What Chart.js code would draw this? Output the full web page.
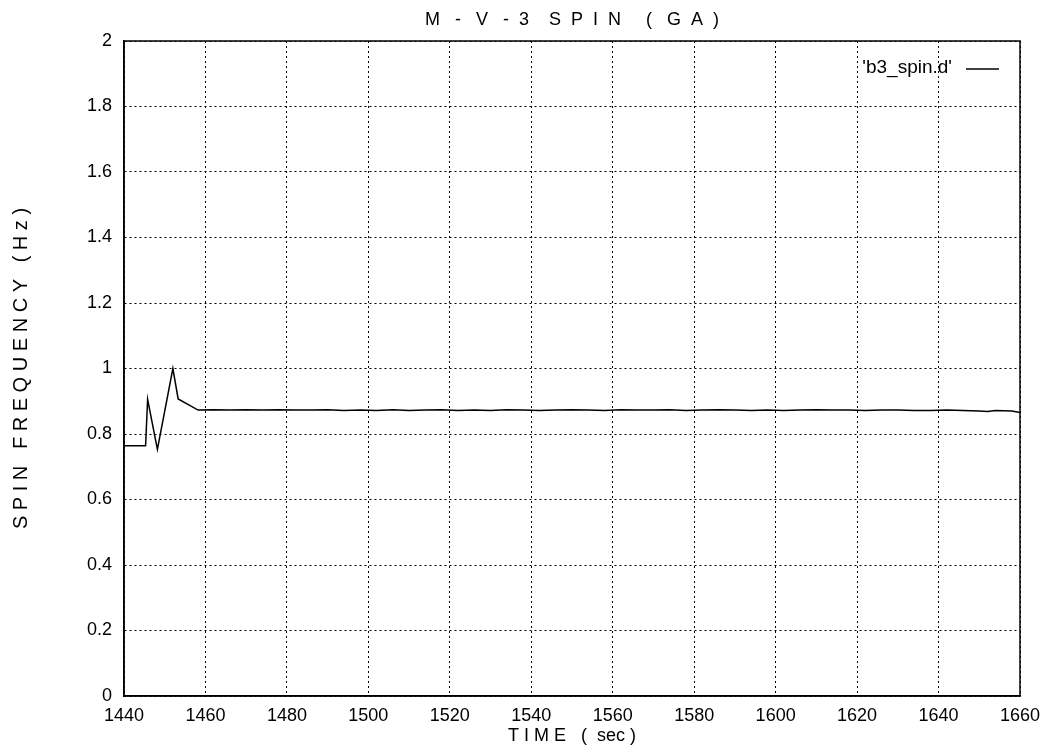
<!DOCTYPE html>
<html>
<head>
<meta charset="utf-8">
<script src="https://cdn.jsdelivr.net/npm/chart.js@4/dist/chart.umd.min.js"></script>
<style>
  html, body { margin: 0; padding: 0; background: #fff; }
  #wrap { width: 1053px; height: 753px; position: relative; }
</style>
</head>
<body>
<div id="wrap"><canvas id="c" width="1053" height="753"></canvas></div>
<script>
// ---- data ----
const timeSec = [1440, 1445.3, 1445.8, 1448.2, 1452, 1453.3, 1458.2,
  1462, 1466, 1470, 1474, 1478, 1482, 1486, 1490, 1494, 1498,
  1502, 1506, 1510, 1514, 1518, 1522, 1526, 1530, 1534, 1538,
  1542, 1546, 1550, 1554, 1558, 1562, 1566, 1570, 1574, 1578,
  1582, 1586, 1590, 1594, 1598, 1602, 1606, 1610, 1614, 1618,
  1622, 1626, 1630, 1634, 1638, 1642, 1646, 1650, 1652, 1654, 1658, 1660];
const spinHz = [0.764, 0.764, 0.906, 0.753, 1.0, 0.907, 0.873,
  0.874, 0.873, 0.874, 0.873, 0.874, 0.873, 0.873, 0.874, 0.872, 0.873,
  0.872, 0.874, 0.872, 0.873, 0.874, 0.872, 0.873, 0.872, 0.874, 0.873,
  0.872, 0.873, 0.874, 0.873, 0.872, 0.874, 0.873, 0.873, 0.874, 0.872,
  0.873, 0.874, 0.873, 0.872, 0.873, 0.872, 0.873, 0.874, 0.873, 0.873,
  0.872, 0.873, 0.873, 0.872, 0.872, 0.873, 0.872, 0.870, 0.869, 0.872, 0.870, 0.866];
const seriesLabel = "'b3_spin.d'";
const xTicks = [1440, 1460, 1480, 1500, 1520, 1540, 1560, 1580, 1600, 1620, 1640, 1660];
const yTicks = [0, 0.2, 0.4, 0.6, 0.8, 1, 1.2, 1.4, 1.6, 1.8, 2];
const chartTitle = "M   -   V   -  3    S  P  I  N     (   G  A  )";
const xTitle = "T I M E   (  sec )";
const yTitle = "S P I N   F R E Q U E N C Y   ( H z )";

const FONT = "'Liberation Sans', Arial, sans-serif";

const points = timeSec.map((t, i) => ({ x: t, y: spinHz[i] }));

const framePlugin = {
  id: 'frame',
  afterDraw(chart) {
    const { ctx, chartArea: a } = chart;
    ctx.save();
    ctx.strokeStyle = '#000';
    ctx.lineWidth = 1.5;
    ctx.strokeRect(a.left, a.top, a.right - a.left, a.bottom - a.top);
    // inline key, gnuplot style
    ctx.font = '19px ' + FONT;
    ctx.fillStyle = '#000';
    ctx.textAlign = 'right';
    ctx.textBaseline = 'middle';
    const ky = a.top + 27;
    ctx.fillText(chart.data.datasets[0].label, a.right - 68, ky);
    ctx.beginPath();
    ctx.lineWidth = 1.3;
    ctx.moveTo(a.right - 54, ky + 1);
    ctx.lineTo(a.right - 21, ky + 1);
    ctx.stroke();
    ctx.restore();
  }
};

new Chart(document.getElementById('c'), {
  type: 'line',
  data: {
    datasets: [{
      label: seriesLabel,
      data: points,
      borderColor: '#000',
      borderWidth: 1.5,
      pointRadius: 0,
      tension: 0,
      fill: false
    }]
  },
  options: {
    responsive: false,
    animation: false,
    layout: { padding: { left: 0, right: 33, top: 0, bottom: 0 } },
    plugins: {
      legend: { display: false },
      tooltip: { enabled: false },
      title: {
        display: true,
        fullSize: false,
        text: chartTitle,
        color: '#000',
        font: { family: FONT, size: 18, weight: 'normal', lineHeight: 1.2 },
        padding: { top: 9, bottom: 10.4 }
      }
    },
    scales: {
      x: {
        type: 'linear',
        min: 1440, max: 1660,
        afterBuildTicks(scale) { scale.ticks = xTicks.map(v => ({ value: v })); },
        afterFit(scale) { scale.height = 57; },
        ticks: { color: '#000', font: { family: FONT, size: 18 }, padding: 9, maxRotation: 0,
                 callback: v => String(v) },
        grid: { color: '#000', lineWidth: 1, drawTicks: false },
        border: { display: true, color: '#000', width: 1.5, dash: [2, 3] },
        title: {
          display: true, text: xTitle, color: '#000',
          font: { family: FONT, size: 18, lineHeight: 1.2 },
          padding: { top: 0, bottom: 6 }
        }
      },
      y: {
        type: 'linear',
        min: 0, max: 2,
        afterBuildTicks(scale) { scale.ticks = yTicks.map(v => ({ value: v })); },
        afterFit(scale) { scale.width = 124; },
        ticks: { color: '#000', font: { family: FONT, size: 18 }, padding: 12,
                 callback: v => String(v) },
        grid: { color: '#000', lineWidth: 1, drawTicks: false },
        border: { display: true, color: '#000', width: 1.5, dash: [2, 3] },
        title: {
          display: true, text: yTitle, color: '#000',
          font: { family: FONT, size: 20, lineHeight: 1.2 },
          padding: { top: 9, bottom: 0 }
        }
      }
    }
  },
  plugins: [framePlugin]
});
</script>
</body>
</html>
